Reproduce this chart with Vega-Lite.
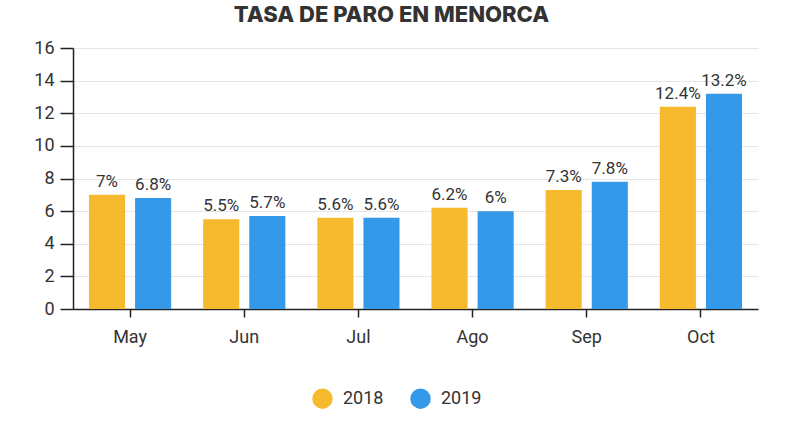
{
  "$schema": "https://vega.github.io/schema/vega-lite/v6.json",
  "autosize": {"type": "none"},
  "width": 685,
  "height": 261,
  "padding": {"left": 73, "top": 48, "right": 47, "bottom": 117},
  "background": "white",
  "title": {
    "text": "TASA DE PARO EN MENORCA",
    "font": "Inter",
    "fontSize": 22,
    "fontWeight": 800,
    "color": "#333333",
    "anchor": "middle",
    "dx": -24,
    "offset": 12
  },
  "config": {
    "view": {"stroke": null},
    "font": "Roboto"
  },
  "data": {
    "values": [
      {"month": "May", "year": "2018", "rate": 7},
      {"month": "May", "year": "2019", "rate": 6.8},
      {"month": "Jun", "year": "2018", "rate": 5.5},
      {"month": "Jun", "year": "2019", "rate": 5.7},
      {"month": "Jul", "year": "2018", "rate": 5.6},
      {"month": "Jul", "year": "2019", "rate": 5.6},
      {"month": "Ago", "year": "2018", "rate": 6.2},
      {"month": "Ago", "year": "2019", "rate": 6},
      {"month": "Sep", "year": "2018", "rate": 7.3},
      {"month": "Sep", "year": "2019", "rate": 7.8},
      {"month": "Oct", "year": "2018", "rate": 12.4},
      {"month": "Oct", "year": "2019", "rate": 13.2}
    ]
  },
  "encoding": {
    "x": {
      "field": "month",
      "type": "nominal",
      "sort": ["May", "Jun", "Jul", "Ago", "Sep", "Oct"],
      "scale": {"paddingInner": 0.28, "paddingOuter": 0.14},
      "axis": {
        "title": null,
        "labelAngle": 0,
        "labelFont": "Roboto",
        "labelFontSize": 18,
        "labelColor": "#333333",
        "labelPadding": 11,
        "domainColor": "#222222",
        "domainWidth": 1.5,
        "tickColor": "#222222",
        "tickWidth": 1.5,
        "tickSize": 8
      }
    },
    "xOffset": {
      "field": "year",
      "type": "nominal",
      "scale": {"paddingInner": 0.217, "paddingOuter": 0}
    },
    "y": {
      "field": "rate",
      "type": "quantitative",
      "scale": {"domain": [0, 16]},
      "axis": {
        "title": null,
        "values": [0, 2, 4, 6, 8, 10, 12, 14, 16],
        "labelFont": "Roboto",
        "labelFontSize": 18,
        "labelColor": "#333333",
        "labelPadding": 6,
        "domainColor": "#222222",
        "domainWidth": 1.5,
        "tickColor": "#222222",
        "tickWidth": 1.5,
        "tickSize": 13,
        "gridColor": "#e6e6e6",
        "gridWidth": 1
      }
    }
  },
  "layer": [
    {
      "mark": {"type": "bar"},
      "encoding": {
        "color": {
          "field": "year",
          "type": "nominal",
          "scale": {"domain": ["2018", "2019"], "range": ["#F7B92D", "#3399E8"]},
          "legend": {
            "title": null,
            "orient": "none",
            "direction": "horizontal",
            "legendX": 239,
            "legendY": 340,
            "symbolType": "circle",
            "symbolSize": 420,
            "symbolStrokeWidth": 0,
            "labelFont": "Roboto",
            "labelFontSize": 18,
            "labelColor": "#333333",
            "labelOffset": 10,
            "columnPadding": 26
          }
        }
      }
    },
    {
      "mark": {
        "type": "text",
        "baseline": "bottom",
        "dy": -4,
        "font": "Roboto",
        "fontSize": 17,
        "color": "#333333",
        "text": {"expr": "datum.rate + '%'"}
      },
      "encoding": {}
    }
  ]
}
